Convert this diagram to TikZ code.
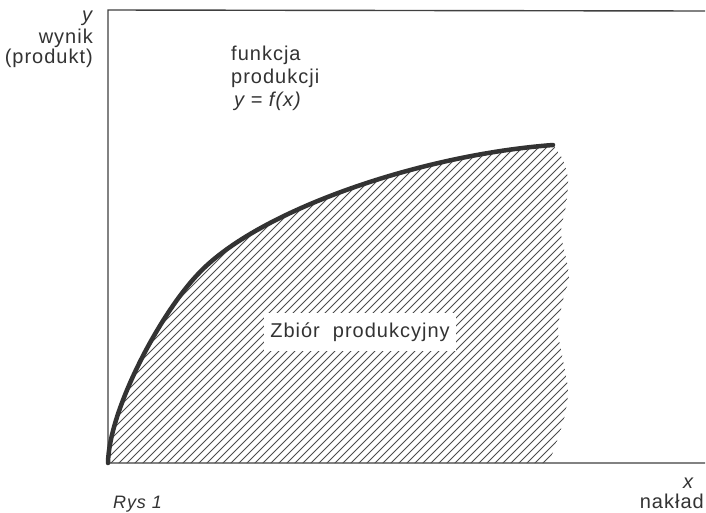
\documentclass[tikz,border=0pt]{standalone}
\usepackage{fontspec}
\setmainfont{Liberation Sans}[LetterSpace=5]
\begin{document}
\begin{tikzpicture}[x=1pt,y=-1pt,
  axis/.style={line width=1.4pt,draw=black!75},
  curve/.style={line width=4.5pt,draw=black!80,line cap=round},
  hatch/.style={line width=0.9pt,draw=black!70},
  lbl/.style={font=\fontsize{20}{22}\selectfont,text=black!80,inner sep=0pt},
  ilbl/.style={font=\fontsize{20}{22}\selectfont\itshape,text=black!80,inner sep=0pt}]
\useasboundingbox (0,0) rectangle (706,512);
\fill[white] (0,0) rectangle (706,512);
% axes
\coordinate (O) at (108,463);
\coordinate (TL) at (108,10);
\coordinate (TR) at (705,11);
\coordinate (BR) at (705,463);
\coordinate (M) at (200,272);
\coordinate (E) at (553,145);
\draw[axis] (TR) -- (TL) -- (O) -- (BR);
% hatched production set
\begin{scope}
\clip (O) .. controls (109,410) and (160,313) .. (M) .. controls (260,210) and (420,155) .. (E)
  -- plot[smooth] coordinates {(553,145) (563,160) (568,180) (566,205) (561,232) (566,258) (569,278) (563,300) (558,330) (563,360) (568,390) (565,415) (559,435) (552,455) (550,463)}
  -- cycle;
\foreach \i in {-400,-392,...,600} {
  \draw[hatch] (\i,470) -- (\i+470,0);
}
\end{scope}
% curve
\draw[curve] (O) .. controls (109,410) and (160,313) .. (M) .. controls (260,210) and (420,155) .. (E);
% labels
\node[ilbl] (ylab) at (87,18) {y};
\node[lbl,anchor=east] (wynik) at (93,38) {wynik};
\node[lbl,anchor=east] (prod) at (93,58) {(produkt)};
\node[lbl,anchor=west] (fun1) at (231,55) {funkcja};
\node[lbl,anchor=west] (fun2) at (231,78) {produkcji};
\node[ilbl,anchor=west] (fun3) at (234,101) {y = f(x)};
\node[lbl,fill=white,inner xsep=6pt,inner ysep=10pt] (zbior) at (360,332) {Zbiór\ \ produkcyjny};
\node[ilbl] (xlab) at (688,483) {x};
\node[lbl,anchor=east] (naklad) at (704,501) {nakład};
\node[ilbl,anchor=base west,font=\fontsize{18}{20}\selectfont\itshape] (rys) at (113,508) {Rys 1};
\end{tikzpicture}
\end{document}
